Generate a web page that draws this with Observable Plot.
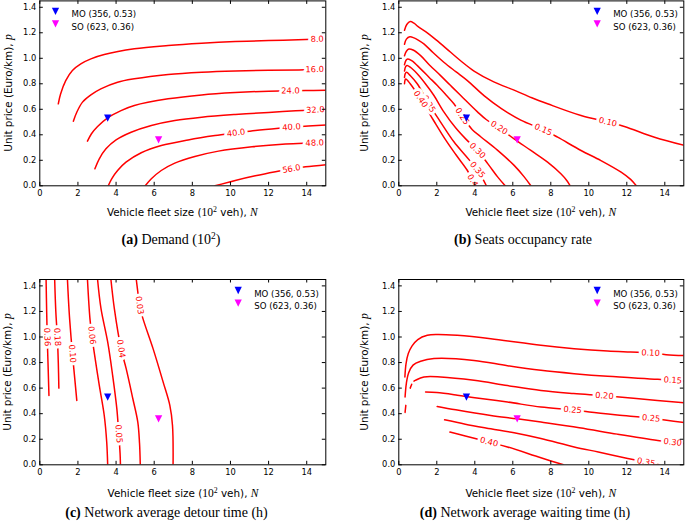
<!DOCTYPE html>
<html>
<head>
<meta charset="utf-8">
<script src="https://cdn.jsdelivr.net/npm/d3@7"></script>
<script src="https://cdn.jsdelivr.net/npm/@observablehq/plot@0.6"></script>
<style>
  html, body { margin: 0; padding: 0; background: #fff; }
  #root { position: relative; width: 685px; height: 522px; overflow: hidden; background: #fff; }
  .panel { position: absolute; }
  .xl, .yl, .cap { position: absolute; white-space: nowrap; color: #000; line-height: 1; }
  .xl, .yl { font-family: "DejaVu Sans", sans-serif; font-size: 10.4px; }
  .xl { transform: translate(-50%, -50%); }
  .yl { transform: translate(-50%, -50%) rotate(-90deg); }
  .m { font-family: "Liberation Serif", serif; font-size: 11.5px; }
  .i { font-style: italic; }
  .sup { font-size: 0.68em; position: relative; top: -0.45em; }
  .cap { font-family: "Liberation Serif", serif; font-size: 14px; transform: translate(-50%, -50%); }
  .cap b { font-weight: bold; }
</style>
</head>
<body>
<div id="root"></div>
<script>
// ---------- shared axes / ticks ----------
const X_DOMAIN = [0, 15];
const Y_DOMAIN = [0, 1.45];
const X_TICKS = [0, 2, 4, 6, 8, 10, 12, 14];
const Y_TICKS = [0, 0.2, 0.4, 0.6, 0.8, 1.0, 1.2, 1.4];

// ---------- optimum markers (MO / SO) ----------
const MARKER_NAMES = ["MO", "SO"];
const MARKER_N = [3.56, 6.23];
const MARKER_P = [0.53, 0.36];
const MARKER_LABELS = ["MO (356, 0.53)", "SO (623, 0.36)"];
const MARKER_COLORS = ["#0000ff", "#ff00ff"];

// ---------- (a) Demand contours ----------
const demandContours = [
  {level: "8.0", segments: [[[0.97,0.643],[1.09,0.72],[1.36,0.825],[1.71,0.904],[2.15,0.956],[2.68,0.995],[3.38,1.029],[4.96,1.074],[6.73,1.1],[8.49,1.118],[10.25,1.131],[12.0,1.139],[13.94,1.147],[15.1,1.152]]], labels: [[14.55,1.15]]},
  {level: "16.0", segments: [[[1.76,0.507],[1.94,0.577],[2.24,0.656],[2.68,0.713],[3.2,0.76],[4.08,0.812],[4.96,0.839],[6.73,0.873],[8.49,0.891],[10.25,0.901],[12.0,0.906],[13.59,0.909],[15.1,0.915]]], labels: [[14.42,0.912]]},
  {level: "24.0", segments: [[[2.5,0.35],[2.71,0.408],[3.03,0.465],[3.56,0.533],[4.26,0.59],[4.96,0.63],[6.73,0.682],[8.49,0.713],[10.25,0.731],[12.0,0.742],[13.94,0.747],[15.1,0.75]]], labels: [[13.15,0.744]]},
  {level: "32.0", segments: [[[2.89,0.133],[3.12,0.212],[3.47,0.29],[4.0,0.36],[4.79,0.42],[5.85,0.473],[7.08,0.512],[8.49,0.538],[10.25,0.559],[12.0,0.575],[13.42,0.588],[15.1,0.6]]], labels: [[14.45,0.595]]},
  {level: "40.0", segments: [[[3.59,0],[3.77,0.055],[4.08,0.12],[4.52,0.185],[5.32,0.259],[6.37,0.316],[7.78,0.36],[9.19,0.394],[10.3,0.415],[11.3,0.434],[12.54,0.452],[13.2,0.46],[15.1,0.478]]], labels: [[10.3,0.41],[13.2,0.46]]},
  {level: "48.0", segments: [[[5.53,0],[5.85,0.055],[6.37,0.12],[7.08,0.178],[8.13,0.23],[9.37,0.272],[11.13,0.306],[12.89,0.327],[14.42,0.336],[15.1,0.342]]], labels: [[14.42,0.334]]},
  {level: "56.0", segments: [[[9.19,0],[10.25,0.042],[11.3,0.078],[12.36,0.11],[13.2,0.133],[13.94,0.149],[15.1,0.167]]], labels: [[13.2,0.133]]}
];

// ---------- (b) Seats occupancy rate contours ----------
const occupancyContours = [
  {level: "0.10", segments: [[[0.3,1.22],[0.42,1.265],[0.6,1.288],[0.8,1.275],[1.0,1.25],[1.5,1.2],[2.0,1.14],[2.73,1.047],[3.3,0.975],[3.96,0.9],[5.0,0.815],[6.07,0.75],[7.0,0.69],[7.83,0.643],[9.59,0.551],[11.0,0.5],[11.87,0.465],[13.46,0.381],[15.05,0.316]]], labels: [[11.0,0.5]]},
  {level: "0.15", segments: [[[0.3,1.11],[0.4,1.15],[0.58,1.168],[0.8,1.16],[1.0,1.145],[1.32,1.113],[1.8,1.045],[2.37,0.969],[3.0,0.895],[3.61,0.825],[4.5,0.705],[5.4,0.605],[6.42,0.515],[7.6,0.44],[8.36,0.381],[9.59,0.277],[10.64,0.198],[11.7,0.107],[12.2,0.05],[12.5,0]]], labels: [[7.6,0.44]]},
  {level: "0.20", segments: [[[0.3,1.02],[0.4,1.055],[0.53,1.073],[0.75,1.065],[1.15,1.021],[1.6,0.95],[2.2,0.864],[2.7,0.79],[3.26,0.708],[4.14,0.58],[4.6,0.52],[5.28,0.455],[6.07,0.368],[6.95,0.277],[7.83,0.185],[8.53,0.094],[8.85,0.04],[9.02,0]]], labels: [[5.28,0.455]]},
  {level: "0.25", segments: [[[0.3,0.95],[0.38,0.985],[0.47,0.995],[0.7,0.98],[1.15,0.917],[1.6,0.85],[2.03,0.786],[2.5,0.71],[2.9,0.643],[3.34,0.545],[3.87,0.44],[4.31,0.385],[5.19,0.28],[6.07,0.16],[6.6,0.07],[6.95,0]]], labels: [[3.34,0.545]]},
  {level: "0.30", segments: [[[0.3,0.9],[0.36,0.935],[0.44,0.943],[0.6,0.93],[0.97,0.878],[1.4,0.8],[1.85,0.708],[2.37,0.58],[2.99,0.455],[3.52,0.368],[4.14,0.277],[4.7,0.17],[5.2,0.07],[5.6,0]]], labels: [[4.14,0.277]]},
  {level: "0.35", segments: [[[0.3,0.85],[0.34,0.88],[0.41,0.89],[0.6,0.865],[0.97,0.8],[1.58,0.643],[2.2,0.5],[2.9,0.345],[3.52,0.235],[4.14,0.125],[4.4,0.06],[4.61,0]]], labels: [[1.58,0.643],[4.14,0.125]]},
  {level: "0.40", segments: [[[0.3,0.8],[0.33,0.83],[0.37,0.838],[0.6,0.8],[1.15,0.68],[1.8,0.52],[2.43,0.368],[3.0,0.245],[3.61,0.12],[3.85,0.05],[4.05,0]]], labels: [[1.15,0.68],[3.92,0.02]]}
];

// ---------- (c) Network average detour time contours ----------
const detourContours = [
  {level: "0.36", segments: [[[0.33,1.45],[0.36,1.2],[0.39,1.0],[0.43,0.8],[0.48,0.543]]], labels: [[0.39,1.0]]},
  {level: "0.18", segments: [[[0.78,1.45],[0.84,1.2],[0.92,1.0],[0.97,0.8],[1.0,0.6]]], labels: [[0.92,1.0]]},
  {level: "0.10", segments: [[[1.45,1.45],[1.5,1.3],[1.57,1.13],[1.71,0.87],[1.83,0.68],[1.94,0.504]]], labels: [[1.71,0.87]]},
  {level: "0.06", segments: [[[2.5,1.45],[2.63,1.144],[2.73,1.013],[2.85,0.883],[3.12,0.621],[3.38,0.386],[3.51,0.177],[3.56,0]]], labels: [[2.73,1.013]]},
  {level: "0.05", segments: [[[3.03,1.45],[3.21,1.222],[3.56,0.961],[3.82,0.7],[4.04,0.439],[4.14,0.243],[4.21,0.09],[4.23,0]]], labels: [[4.14,0.243]]},
  {level: "0.04", segments: [[[3.73,1.45],[3.91,1.222],[4.26,0.909],[4.53,0.752],[4.88,0.517],[5.14,0.334],[5.23,0.17],[5.27,0]]], labels: [[4.26,0.909]]},
  {level: "0.03", segments: [[[5.06,1.45],[5.14,1.353],[5.23,1.248],[5.41,1.144],[5.94,0.909],[6.47,0.647],[6.82,0.465],[6.96,0.308],[6.99,0]]], labels: [[5.23,1.248]]}
];

// ---------- (d) Network average waiting time contours ----------
const waitingContours = [
  {level: "0.10", segments: [[[0.32,0.687],[0.38,0.79],[0.5,0.87],[0.7,0.93],[1.0,0.98],[1.5,1.013],[2.0,1.02],[3.08,1.013],[4.84,0.987],[7.48,0.935],[9.23,0.909],[10.99,0.89],[12.2,0.882],[13.25,0.875],[14.07,0.862],[15.05,0.855]]], labels: [[13.25,0.875]]},
  {level: "0.15", segments: [[[0.33,0.53],[0.4,0.64],[0.52,0.72],[0.75,0.78],[1.15,0.81],[1.85,0.831],[3.96,0.817],[5.72,0.775],[7.48,0.739],[9.23,0.713],[10.99,0.692],[13.63,0.669],[15.05,0.655]]], labels: [[14.42,0.662]]},
  {level: "0.20", segments: [[[0.33,0.41],[0.37,0.465]], [[0.6,0.6],[0.68,0.63]], [[0.8,0.655],[0.87,0.661],[1.32,0.687],[2.2,0.687],[3.96,0.661],[5.72,0.62],[7.48,0.582],[9.2,0.558],[10.82,0.54],[12.5,0.518],[15.05,0.486]]], labels: [[10.82,0.54]]},
  {level: "0.25", segments: [[[1.41,0.569],[2.0,0.565],[3.08,0.545],[4.0,0.525],[5.72,0.491],[7.48,0.452],[9.15,0.43],[10.03,0.413],[11.5,0.39],[13.28,0.365],[15.05,0.33]]], labels: [[9.15,0.43],[13.28,0.365]]},
  {level: "0.30", segments: [[[2.02,0.457],[3.0,0.43],[4.84,0.386],[6.23,0.36],[7.48,0.334],[9.5,0.29],[11.5,0.24],[13.63,0.191],[15.05,0.165]]], labels: [[14.42,0.178]]},
  {level: "0.35", segments: [[[2.41,0.352],[3.5,0.318],[4.84,0.282],[6.07,0.25],[7.48,0.205],[9.23,0.14],[10.5,0.1],[12.05,0.05],[13.3,0.012],[13.7,0]]], labels: [[13.02,0.02]]},
  {level: "0.40", segments: [[[2.69,0.256],[3.5,0.225],[4.75,0.178],[5.72,0.14],[7.48,0.055],[8.67,0]]], labels: [[4.75,0.178]]}
];

// ---------- helpers ----------
// downward triangle marker (bounding-box centred, like matplotlib "v")
const triangleDown = {
  draw(context, size) {
    const a = Math.sqrt(size / Math.PI) * 1.3;
    context.moveTo(-a, -a);
    context.lineTo(a, -a);
    context.lineTo(0, a);
    context.closePath();
  }
};

function labelRows(contours, kx, ky) {
  const rows = [];
  for (const c of contours) {
    for (const [ln, lp] of c.labels) {
      const px = ln * kx, py = -lp * ky;
      let best = null;
      for (const seg of c.segments) {
        for (let i = 0; i < seg.length - 1; i++) {
          const ax = seg[i][0] * kx, ay = -seg[i][1] * ky;
          const bx = seg[i + 1][0] * kx, by = -seg[i + 1][1] * ky;
          const dx = bx - ax, dy = by - ay;
          const L2 = dx * dx + dy * dy || 1;
          let t = ((px - ax) * dx + (py - ay) * dy) / L2;
          t = Math.max(0, Math.min(1, t));
          const qx = ax + t * dx, qy = ay + t * dy;
          const d = Math.hypot(px - qx, py - qy);
          if (!best || d < best.d) best = {d, qx, qy, dx, dy};
        }
      }
      let ang = Math.atan2(best.dy, best.dx) * 180 / Math.PI;
      if (ang > 90) ang -= 180;
      if (ang < -90) ang += 180;
      rows.push({N: best.qx / kx, p: -best.qy / ky, text: c.level, rotate: ang});
    }
  }
  return rows;
}

function makePanel(contours, o) {
  const iw = o.width - o.ml - o.mr, ih = o.height - o.mt - o.mb;
  const kx = iw / (X_DOMAIN[1] - X_DOMAIN[0]);
  const ky = ih / (Y_DOMAIN[1] - Y_DOMAIN[0]);
  const lineRows = [];
  contours.forEach((c, ci) => c.segments.forEach((seg, si) =>
    seg.forEach(([N, p]) => lineRows.push({id: ci + "-" + si, N, p}))));
  const labels = labelRows(contours, kx, ky);
  const TL = 3.5, tx = TL / kx, ty = TL / ky;
  const markers = MARKER_NAMES.map((name, i) => ({name, N: MARKER_N[i], p: MARKER_P[i], color: MARKER_COLORS[i], label: MARKER_LABELS[i]}));
  const legendMarks = [];
  markers.forEach((m, i) => {
    legendMarks.push(Plot.dot([m], {frameAnchor: o.legendAnchor, dx: o.legendDx, dy: o.legendDy[i], symbol: triangleDown, r: 2.8, fill: m.color, stroke: "none"}));
    legendMarks.push(Plot.text([m.label], {frameAnchor: o.legendAnchor, dx: o.legendDx + 16, dy: o.legendDy[i], textAnchor: "start", fontSize: 8.6, fill: "#000"}));
  });
  return Plot.plot({
    width: o.width, height: o.height,
    marginLeft: o.ml, marginRight: o.mr, marginTop: o.mt, marginBottom: o.mb,
    x: {domain: X_DOMAIN},
    y: {domain: Y_DOMAIN},
    style: {fontFamily: "DejaVu Sans, sans-serif", fontSize: "8.2px", color: "#000", background: "transparent", overflow: "visible"},
    marks: [
      Plot.line(lineRows, {x: "N", y: "p", z: "id", stroke: "#ff0000", strokeWidth: 1.5, curve: "catmull-rom", clip: true}),
      Plot.text(labels, {x: "N", y: "p", text: "text", rotate: "rotate", fill: "#ff0000", stroke: "#fff", strokeWidth: 6, strokeLinejoin: "round", paintOrder: "stroke", fontSize: 8.3, clip: true}),
      ...markers.map(m => Plot.dot([m], {x: "N", y: "p", symbol: triangleDown, r: 2.8, fill: m.color, stroke: "none"})),
      Plot.frame({stroke: "#000", strokeWidth: 1}),
      Plot.ruleX(X_TICKS, {x: d => d, y1: Y_DOMAIN[0], y2: Y_DOMAIN[0] + ty, stroke: "#000", strokeWidth: 1}),
      Plot.ruleX(X_TICKS, {x: d => d, y1: Y_DOMAIN[1] - ty, y2: Y_DOMAIN[1], stroke: "#000", strokeWidth: 1}),
      Plot.ruleY(Y_TICKS, {y: d => d, x1: X_DOMAIN[0], x2: X_DOMAIN[0] + tx, stroke: "#000", strokeWidth: 1}),
      Plot.ruleY(Y_TICKS, {y: d => d, x1: X_DOMAIN[1] - tx, x2: X_DOMAIN[1], stroke: "#000", strokeWidth: 1}),
      Plot.axisX(X_TICKS, {tickSize: 0, tickPadding: 4, tickFormat: d => String(d), label: null, fontSize: 8.3}),
      Plot.axisY(Y_TICKS, {tickSize: 0, tickPadding: 3.5, tickFormat: d3.format(".1f"), label: null, fontSize: 8.3}),
      ...legendMarks
    ]
  });
}

// ---------- layout ----------
const root = document.getElementById("root");
const panels = [
  {contours: demandContours, left: 0, top: 0, width: 340, height: 200, ml: 39.3, mr: 14.7, mt: 0.4, mb: 14.7,
   legendAnchor: "top-left", legendDx: 15.7, legendDy: [10.4, 23.0],
   xl: [182.3, 212.5], yl: [9.3, 92.7], cap: [171, 239.5], capLetter: "(a)", capText: " Demand (10<span class=\"sup\">2</span>)"},
  {contours: occupancyContours, left: 340, top: 0, width: 345, height: 200, ml: 58.3, mr: 1.7, mt: 0.4, mb: 14.7,
   legendAnchor: "top-right", legendDx: -86.6, legendDy: [10.4, 23.0],
   xl: [540.8, 212.5], yl: [365, 92.7], cap: [523, 239.5], capLetter: "(b)", capText: " Seats occupancy rate"},
  {contours: detourContours, left: 0, top: 270, width: 340, height: 210, ml: 39.3, mr: 14.7, mt: 9, mb: 15.7,
   legendAnchor: "top-right", legendDx: -87.6, legendDy: [11, 23.7],
   xl: [183, 493.5], yl: [8, 371.7], cap: [166.5, 513.2], capLetter: "(c)", capText: " Network average detour time (h)"},
  {contours: waitingContours, left: 340, top: 270, width: 345, height: 210, ml: 58.3, mr: 1.7, mt: 9, mb: 15.7,
   legendAnchor: "top-right", legendDx: -86.6, legendDy: [11, 23.7],
   xl: [540.8, 493.5], yl: [365, 371.7], cap: [525, 513.2], capLetter: "(d)", capText: " Network average waiting time (h)"}
];

for (const P of panels) {
  const wrap = document.createElement("div");
  wrap.className = "panel";
  wrap.style.left = P.left + "px";
  wrap.style.top = P.top + "px";
  wrap.appendChild(makePanel(P.contours, P));
  root.appendChild(wrap);

  const xl = document.createElement("div");
  xl.className = "xl";
  xl.style.left = P.xl[0] + "px"; xl.style.top = P.xl[1] + "px";
  xl.innerHTML = 'Vehicle fleet size (<span class="m">10<span class="sup">2</span></span> veh), <span class="m i">N</span>';
  root.appendChild(xl);

  const yl = document.createElement("div");
  yl.className = "yl";
  yl.style.left = P.yl[0] + "px"; yl.style.top = P.yl[1] + "px";
  yl.innerHTML = 'Unit price (Euro/km), <span class="m i">p</span>';
  root.appendChild(yl);

  const cap = document.createElement("div");
  cap.className = "cap";
  cap.style.left = P.cap[0] + "px"; cap.style.top = P.cap[1] + "px";
  cap.innerHTML = "<b>" + P.capLetter + "</b>" + P.capText;
  root.appendChild(cap);
}
</script>
</body>
</html>
